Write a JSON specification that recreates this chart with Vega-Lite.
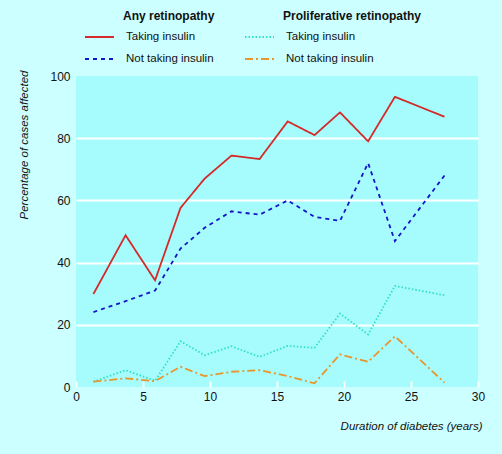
{
  "$schema": "https://vega.github.io/schema/vega-lite/v6.json",
  "width": 402,
  "height": 311,
  "autosize": {"type": "none"},
  "padding": {"left": 76, "top": 76, "right": 24, "bottom": 67},
  "background": "#ccffff",
  "config": {
    "font": "Liberation Sans",
    "view": {"fill": "#a6fcfc", "stroke": null}
  },
  "data": {
    "values": [
      {"x": 1.3, "y": 29.9, "type": "Any", "insulin": "Taking insulin"},
      {"x": 3.7, "y": 48.8, "type": "Any", "insulin": "Taking insulin"},
      {"x": 5.9, "y": 34.3, "type": "Any", "insulin": "Taking insulin"},
      {"x": 7.8, "y": 57.6, "type": "Any", "insulin": "Taking insulin"},
      {"x": 9.6, "y": 67.0, "type": "Any", "insulin": "Taking insulin"},
      {"x": 11.6, "y": 74.4, "type": "Any", "insulin": "Taking insulin"},
      {"x": 13.7, "y": 73.3, "type": "Any", "insulin": "Taking insulin"},
      {"x": 15.8, "y": 85.4, "type": "Any", "insulin": "Taking insulin"},
      {"x": 17.8, "y": 81.0, "type": "Any", "insulin": "Taking insulin"},
      {"x": 19.7, "y": 88.3, "type": "Any", "insulin": "Taking insulin"},
      {"x": 21.8, "y": 79.0, "type": "Any", "insulin": "Taking insulin"},
      {"x": 23.8, "y": 93.3, "type": "Any", "insulin": "Taking insulin"},
      {"x": 27.5, "y": 86.9, "type": "Any", "insulin": "Taking insulin"},
      {"x": 1.3, "y": 24.1, "type": "Any", "insulin": "Not taking insulin"},
      {"x": 3.7, "y": 27.6, "type": "Any", "insulin": "Not taking insulin"},
      {"x": 5.9, "y": 31.0, "type": "Any", "insulin": "Not taking insulin"},
      {"x": 7.8, "y": 44.5, "type": "Any", "insulin": "Not taking insulin"},
      {"x": 9.6, "y": 51.2, "type": "Any", "insulin": "Not taking insulin"},
      {"x": 11.6, "y": 56.5, "type": "Any", "insulin": "Not taking insulin"},
      {"x": 13.7, "y": 55.4, "type": "Any", "insulin": "Not taking insulin"},
      {"x": 15.8, "y": 60.0, "type": "Any", "insulin": "Not taking insulin"},
      {"x": 17.8, "y": 54.7, "type": "Any", "insulin": "Not taking insulin"},
      {"x": 19.7, "y": 53.4, "type": "Any", "insulin": "Not taking insulin"},
      {"x": 21.8, "y": 72.0, "type": "Any", "insulin": "Not taking insulin"},
      {"x": 23.8, "y": 46.9, "type": "Any", "insulin": "Not taking insulin"},
      {"x": 27.5, "y": 68.0, "type": "Any", "insulin": "Not taking insulin"},
      {"x": 1.3, "y": 1.7, "type": "Proliferative", "insulin": "Taking insulin"},
      {"x": 3.7, "y": 5.4, "type": "Proliferative", "insulin": "Taking insulin"},
      {"x": 5.9, "y": 2.0, "type": "Proliferative", "insulin": "Taking insulin"},
      {"x": 7.8, "y": 14.7, "type": "Proliferative", "insulin": "Taking insulin"},
      {"x": 9.6, "y": 10.2, "type": "Proliferative", "insulin": "Taking insulin"},
      {"x": 11.6, "y": 13.1, "type": "Proliferative", "insulin": "Taking insulin"},
      {"x": 13.7, "y": 9.7, "type": "Proliferative", "insulin": "Taking insulin"},
      {"x": 15.8, "y": 13.2, "type": "Proliferative", "insulin": "Taking insulin"},
      {"x": 17.8, "y": 12.6, "type": "Proliferative", "insulin": "Taking insulin"},
      {"x": 19.7, "y": 23.6, "type": "Proliferative", "insulin": "Taking insulin"},
      {"x": 21.8, "y": 16.9, "type": "Proliferative", "insulin": "Taking insulin"},
      {"x": 23.8, "y": 32.5, "type": "Proliferative", "insulin": "Taking insulin"},
      {"x": 27.5, "y": 29.5, "type": "Proliferative", "insulin": "Taking insulin"},
      {"x": 1.3, "y": 1.7, "type": "Proliferative", "insulin": "Not taking insulin"},
      {"x": 3.7, "y": 2.8, "type": "Proliferative", "insulin": "Not taking insulin"},
      {"x": 5.9, "y": 1.9, "type": "Proliferative", "insulin": "Not taking insulin"},
      {"x": 7.8, "y": 6.5, "type": "Proliferative", "insulin": "Not taking insulin"},
      {"x": 9.6, "y": 3.5, "type": "Proliferative", "insulin": "Not taking insulin"},
      {"x": 11.6, "y": 4.9, "type": "Proliferative", "insulin": "Not taking insulin"},
      {"x": 13.7, "y": 5.4, "type": "Proliferative", "insulin": "Not taking insulin"},
      {"x": 15.8, "y": 3.5, "type": "Proliferative", "insulin": "Not taking insulin"},
      {"x": 17.8, "y": 1.2, "type": "Proliferative", "insulin": "Not taking insulin"},
      {"x": 19.7, "y": 10.5, "type": "Proliferative", "insulin": "Not taking insulin"},
      {"x": 21.8, "y": 8.1, "type": "Proliferative", "insulin": "Not taking insulin"},
      {"x": 23.8, "y": 16.3, "type": "Proliferative", "insulin": "Not taking insulin"},
      {"x": 27.5, "y": 1.4, "type": "Proliferative", "insulin": "Not taking insulin"}
    ]
  },
  "encoding": {
    "x": {
      "field": "x", "type": "quantitative",
      "scale": {"domain": [0, 30], "nice": false, "zero": false},
      "axis": {
        "title": "Duration of diabetes (years)",
        "values": [0, 5, 10, 15, 20, 25, 30],
        "grid": false, "domain": false,
        "tickColor": "white", "tickSize": -6, "tickWidth": 2,
        "labelFontSize": 12, "labelColor": "#111", "labelPadding": 10,
        "labelFlush": false,
        "titleFontSize": 11.5, "titleFontStyle": "italic", "titleFontWeight": "normal", "titleColor": "#111",
        "titleX": 406, "titleY": 42, "titleAlign": "right", "titleBaseline": "alphabetic", "titleAnchor": null
      }
    },
    "y": {
      "field": "y", "type": "quantitative",
      "scale": {"domain": [0, 100], "nice": false},
      "axis": {
        "title": "Percentage of cases affected",
        "values": [0, 20, 40, 60, 80, 100],
        "domain": false, "ticks": false,
        "grid": true,
        "gridColor": {"condition": {"test": "datum.value == 0 || datum.value == 100", "value": "transparent"}, "value": "white"},
        "gridWidth": 2, "gridOpacity": 1,
        "labelFontSize": 12, "labelColor": "#111", "labelPadding": 6,
        "titleFontSize": 11.5, "titleFontStyle": "italic", "titleFontWeight": "normal", "titleColor": "#111",
        "titleX": -52, "titleY": -6, "titleAlign": "right", "titleBaseline": "middle", "titleAngle": -90
      }
    }
  },
  "layer": [
    {
      "transform": [{"filter": "datum.type == 'Any'"}],
      "mark": {"type": "line", "strokeWidth": 1.8, "clip": true},
      "encoding": {
        "stroke": {
          "field": "insulin", "type": "nominal",
          "scale": {"domain": ["Taking insulin", "Not taking insulin"], "range": ["#d42a2a", "#1414c8"]},
          "legend": {
            "title": "Any retinopathy", "orient": "none", "legendX": 8, "legendY": -65,
            "symbolType": "stroke", "symbolSize": 841, "symbolStrokeWidth": 2, "clipHeight": 14,
            "labelOffset": 11, "rowPadding": 8,
            "labelFontSize": 11.5, "labelColor": "#111", "titleFontSize": 12, "titleColor": "#111", "titleFontWeight": "bold", "titlePadding": 7,
            "encode": {"title": {"update": {"dx": {"value": 39}}}}
          }
        },
        "strokeDash": {
          "field": "insulin", "type": "nominal",
          "scale": {"domain": ["Taking insulin", "Not taking insulin"], "range": [[1, 0], [4, 4]]},
          "legend": {
            "title": "Any retinopathy", "orient": "none", "legendX": 8, "legendY": -65,
            "symbolType": "stroke", "symbolSize": 841, "symbolStrokeWidth": 2, "clipHeight": 14,
            "labelOffset": 11, "rowPadding": 8,
            "labelFontSize": 11.5, "labelColor": "#111", "titleFontSize": 12, "titleColor": "#111", "titleFontWeight": "bold", "titlePadding": 7,
            "encode": {"title": {"update": {"dx": {"value": 39}}}}
          }
        }
      }
    },
    {
      "transform": [{"filter": "datum.type == 'Proliferative'"}],
      "mark": {"type": "line", "strokeWidth": 1.8, "clip": true},
      "encoding": {
        "stroke": {
          "field": "insulin", "type": "nominal",
          "scale": {"domain": ["Taking insulin", "Not taking insulin"], "range": ["#2ee0c4", "#e8952e"]},
          "legend": {
            "title": "Proliferative retinopathy", "orient": "none", "legendX": 168, "legendY": -65,
            "symbolType": "stroke", "symbolSize": 841, "symbolStrokeWidth": 2, "clipHeight": 14,
            "labelOffset": 11, "rowPadding": 8,
            "labelFontSize": 11.5, "labelColor": "#111", "titleFontSize": 12, "titleColor": "#111", "titleFontWeight": "bold", "titlePadding": 7,
            "encode": {"title": {"update": {"dx": {"value": 39}}}}
          }
        },
        "strokeDash": {
          "field": "insulin", "type": "nominal",
          "scale": {"domain": ["Taking insulin", "Not taking insulin"], "range": [[1.5, 2], [8, 3, 2, 3]]},
          "legend": {
            "title": "Proliferative retinopathy", "orient": "none", "legendX": 168, "legendY": -65,
            "symbolType": "stroke", "symbolSize": 841, "symbolStrokeWidth": 2, "clipHeight": 14,
            "labelOffset": 11, "rowPadding": 8,
            "labelFontSize": 11.5, "labelColor": "#111", "titleFontSize": 12, "titleColor": "#111", "titleFontWeight": "bold", "titlePadding": 7,
            "encode": {"title": {"update": {"dx": {"value": 39}}}}
          }
        }
      }
    }
  ],
  "resolve": {"scale": {"stroke": "independent", "strokeDash": "independent"}}
}
